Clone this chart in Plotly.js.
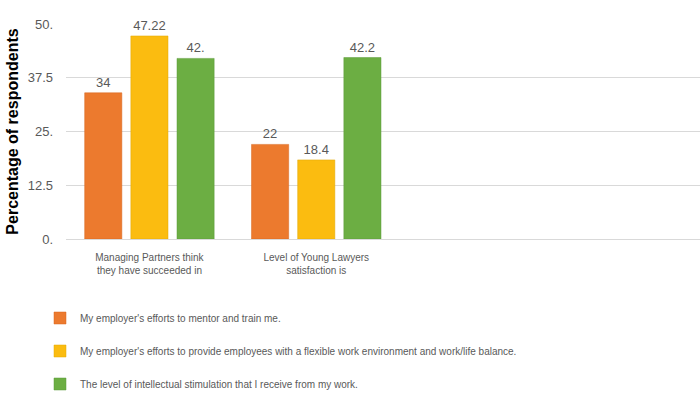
<!DOCTYPE html>
<html><head><meta charset="utf-8">
<script src="https://cdn.plot.ly/plotly-3.0.1.min.js"></script>
<style>body{margin:0;background:#fff}#c{width:700px;height:399px}</style>
</head><body><div id="c"></div>
<script>
const categories = ["Managing Partners think<br>they have succeeded in", "Level of Young Lawyers<br>satisfaction is"];
const seriesNames = ["My employer's efforts to mentor and train me.", "My employer's efforts to provide employees with a flexible work environment and work/life balance.", "The level of intellectual stimulation that I receive from my work."];
const mentor = [34, 22];
const flexible = [47.22, 18.4];
const stimulation = [42, 42.2];
const labelsMentor = ["34", "22"];
const labelsFlexible = ["47.22", "18.4"];
const labelsStimulation = ["42.", "42.2"];
const yTickVals = [0, 12.5, 25, 37.5, 50];
const yTickText = ["0.", "12.5", "25.", "37.5", "50."];

const colors = ["#EC7A2E", "#FBBC10", "#6CAE43"];
const lineColors = ["#D9661E", "#E0A800", "#5A9A38"];
const vals = [mentor, flexible, stimulation];
const labs = [labelsMentor, labelsFlexible, labelsStimulation];
const font = "Liberation Sans, Arial, sans-serif";
const traces = vals.map((v, i) => ({
  type: "bar", x: categories, y: v, name: seriesNames[i],
  text: labs[i], textposition: "outside", cliponaxis: false,
  textfont: {family: font, size: 13, color: "#595959"},
  marker: {color: colors[i], line: {color: lineColors[i], width: 0.5}},
  legendgroup: "g" + i, hoverinfo: "y"
}));
Plotly.newPlot("c", traces, {
  width: 700, height: 399,
  margin: {l: 66, r: 0, t: 24, b: 160},
  paper_bgcolor: "#fff", plot_bgcolor: "#fff",
  bargap: 0.17, bargroupgap: 0.195,
  showlegend: true,
  legend: {x: -0.041, xanchor: "left", y: -0.30, yanchor: "top", orientation: "v",
    font: {family: font, size: 10, color: "#595959"}, tracegroupgap: 14, traceorder: "grouped"},
  xaxis: {type: "category", range: [-0.5, 3.3], showgrid: false, showline: false, ticks: "",
    ticklabelstandoff: 11,
    tickfont: {family: font, size: 10, color: "#595959"}, zeroline: false, fixedrange: true},
  yaxis: {range: [0, 50], tickvals: yTickVals, ticktext: yTickText, showgrid: true, gridcolor: "#D9D9D9", gridwidth: 1,
    zeroline: true, zerolinecolor: "#D9D9D9", zerolinewidth: 1, ticks: "", ticklabelstandoff: 12,
    tickfont: {family: font, size: 13, color: "#595959"},
    title: {text: "<b>Percentage of respondents</b>", font: {family: font, size: 16, color: "#000"}, standoff: 5}},
}, {displayModeBar: false, staticPlot: true});
</script></body></html>
